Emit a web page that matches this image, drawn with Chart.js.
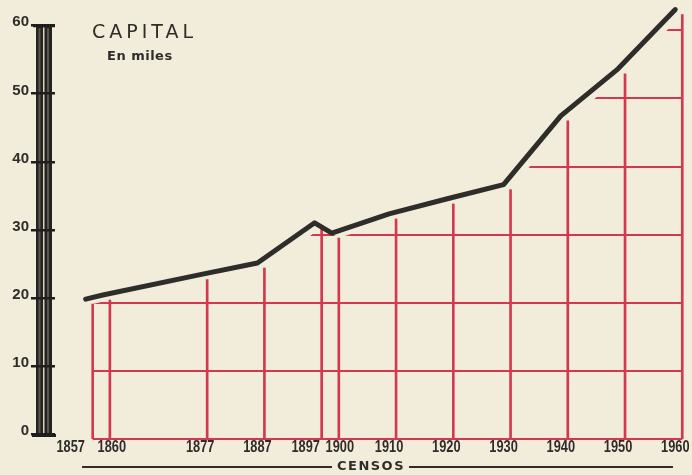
<!DOCTYPE html>
<html lang="es">
<head>
    <meta charset="UTF-8">
    <title>Capital - Censos</title>
    <style>
        html, body { margin: 0; padding: 0; background: #f2ecdb; }
        #wrap { width: 692px; height: 475px; position: relative; }
    </style>
</head>
<body>
    <div id="wrap"><canvas id="censos"></canvas></div>
    <script src="https://cdn.jsdelivr.net/npm/chart.js"></script>
    <script>
        // census years and population of the capital (thousands)
        const years = [1857, 1860, 1877, 1887, 1897, 1900, 1910, 1920, 1930, 1940, 1950, 1960];
        const capital = [19.8, 20.4, 23.4, 25.1, 31.0, 29.5, 32.3, 34.5, 36.6, 46.7, 53.6, 62.3];
        const yTicks = [0, 10, 20, 30, 40, 50, 60];

        const RED = '#d3384f';
        const INK = '#2e2d2a';
        // the black plate is printed a little off the red one
        const plate = { x: -7, y: -5 };
        // crowded year labels pushed apart
        const labelNudge = { 1857: -15, 1860: 9, 1897: -9, 1900: 8 };

        const points = years.map((yr, i) => ({ x: yr, y: capital[i] }));

        const printPlugin = {
            id: 'print',
            beforeDatasetsDraw(chart) {
                // red grid, only under the curve
                const { ctx, scales: { x, y } } = chart;
                ctx.save();
                ctx.beginPath();
                ctx.moveTo(x.getPixelForValue(years[0]), y.getPixelForValue(0) + 4);
                years.forEach((yr, i) => ctx.lineTo(x.getPixelForValue(yr), y.getPixelForValue(capital[i])));
                ctx.lineTo(x.getPixelForValue(years[years.length - 1]), y.getPixelForValue(0) + 4);
                ctx.closePath();
                ctx.clip();
                ctx.strokeStyle = RED;
                ctx.lineWidth = 2;
                yTicks.forEach(v => {
                    const py = Math.round(y.getPixelForValue(v));
                    ctx.beginPath();
                    ctx.moveTo(x.left, py);
                    ctx.lineTo(x.right, py);
                    ctx.stroke();
                });
                ctx.restore();
            },
            beforeDatasetDraw(chart, args) {
                if (args.index === 0) {
                    chart.ctx.save();
                    chart.ctx.translate(plate.x, plate.y);
                }
            },
            afterDatasetDraw(chart, args) {
                if (args.index === 0) chart.ctx.restore();
            },
            afterDraw(chart) {
                const { ctx, scales: { x, y } } = chart;
                const py = v => y.getPixelForValue(v) + plate.y;
                ctx.save();

                // left axis rail
                const top = py(60), bottom = py(0) + 2;
                ctx.fillStyle = '#242321';
                ctx.fillRect(36, top, 16, bottom - top);
                ctx.fillStyle = '#5a5751';
                ctx.fillRect(38.5, top + 3, 2, bottom - top - 6);
                ctx.fillRect(47, top + 3, 2, bottom - top - 6);
                ctx.fillStyle = '#d9d2bf';
                ctx.fillRect(43, top + 2, 1.5, bottom - top - 4);
                ctx.fillStyle = '#1f1e1c';
                ctx.fillRect(33, top - 1, 22, 3);
                ctx.fillRect(32, bottom - 2, 24, 3);
                yTicks.forEach(v => ctx.fillRect(31, Math.round(py(v)) - 1, 24, 2.5));

                // y labels
                ctx.fillStyle = INK;
                ctx.font = 'bold 15px "Liberation Sans", Arial, sans-serif';
                ctx.textAlign = 'right';
                ctx.textBaseline = 'middle';
                yTicks.forEach(v => ctx.fillText(String(v), 29, py(v) - 3));

                // year labels, condensed
                ctx.font = 'bold 16px "Liberation Sans", Arial, sans-serif';
                ctx.textAlign = 'center';
                years.forEach(yr => {
                    const px = x.getPixelForValue(yr) + plate.x + (labelNudge[yr] || 0);
                    ctx.save();
                    ctx.translate(px, 448);
                    ctx.scale(0.8, 1);
                    ctx.fillText(String(yr), 0, 0);
                    ctx.restore();
                });

                // CENSOS
                ctx.font = 'bold 13px "DejaVu Sans", sans-serif';
                ctx.letterSpacing = '1.5px';
                const w = ctx.measureText('CENSOS').width;
                const cx = 370;
                ctx.fillText('CENSOS', cx + 1, 467);
                ctx.fillRect(82, 466, cx - w / 2 - 86, 2);
                ctx.fillRect(cx + w / 2 + 5, 466, 673 - (cx + w / 2 + 5), 2);

                // title
                ctx.textAlign = 'left';
                ctx.font = '19px "DejaVu Sans", sans-serif';
                ctx.letterSpacing = '4px';
                ctx.fillText('CAPITAL', 92, 33);
                ctx.font = 'bold 13px "DejaVu Sans", sans-serif';
                ctx.letterSpacing = '0.5px';
                ctx.fillText('En miles', 107, 57);
                ctx.restore();
            }
        };

        new Chart(document.getElementById('censos'), {
            type: 'line',
            data: {
                datasets: [{
                    type: 'line',
                    data: points,
                    borderColor: INK,
                    borderWidth: 5,
                    borderCapStyle: 'round',
                    borderJoinStyle: 'round',
                    pointRadius: 0,
                    tension: 0,
                    clip: false,
                    order: 0
                }, {
                    type: 'bar',
                    data: points,
                    backgroundColor: RED,
                    barThickness: 2,
                    grouped: false,
                    order: 1
                }]
            },
            options: {
                responsive: true,
                maintainAspectRatio: false,
                animation: false,
                layout: { padding: { left: 24, right: 4, top: 3, bottom: 36 } },
                scales: {
                    x: { type: 'linear', display: false, min: 1845, max: 1961, offset: false },
                    y: { display: false, min: 0, max: 64 }
                },
                plugins: {
                    legend: { display: false },
                    tooltip: { enabled: false }
                }
            },
            plugins: [printPlugin]
        });
    </script>
</body>
</html>
